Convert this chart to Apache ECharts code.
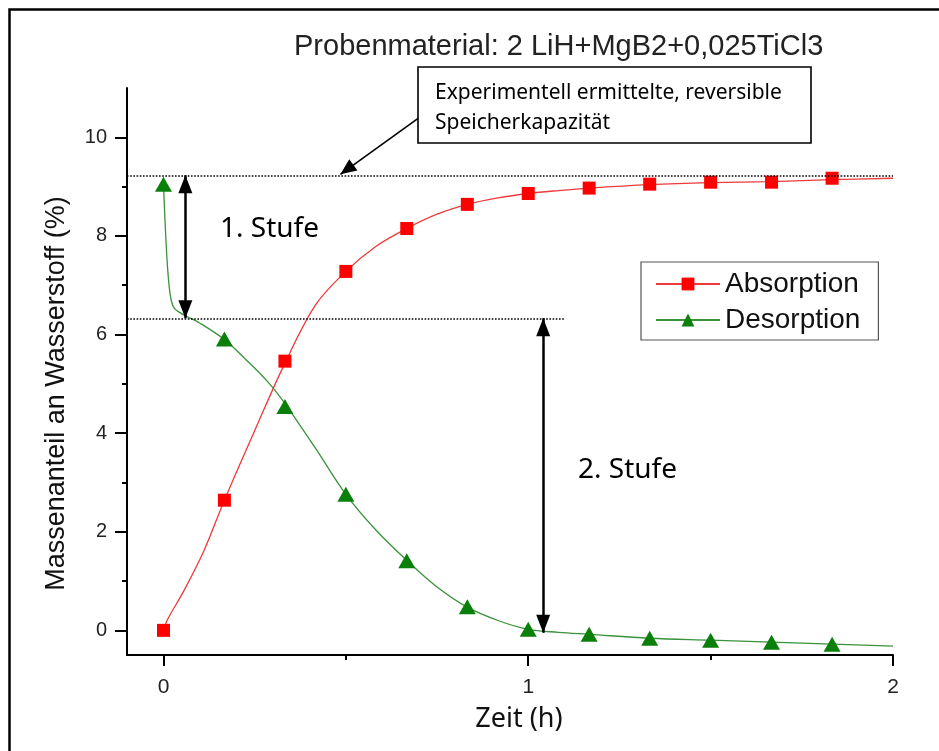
<!DOCTYPE html>
<html><head><meta charset="utf-8">
<script src="https://cdn.jsdelivr.net/npm/echarts@6/dist/echarts.min.js"></script>
<style>html,body{margin:0;padding:0;background:#fff}#c{width:939px;height:751px}</style>
</head><body><div id="c"></div>
<script>
const chartTitle = 'Probenmaterial: 2 LiH+MgB2+0,025TiCl3';
const xName = 'Zeit (h)';
const yName = 'Massenanteil an Wasserstoff (%)';
const seriesNames = ['Absorption', 'Desorption'];
const xTickLabels = [0, 1, 2];
const xMinorTicks = [0.5, 1.5];
const yTickLabels = [0, 2, 4, 6, 8, 10];
const yMinorTicks = [1, 3, 5, 7, 9];

// marker times (every 10 min)
const markerTimes = [0, 0.167, 0.333, 0.5, 0.667, 0.833, 1.0, 1.167, 1.333, 1.5, 1.667, 1.833];
const absMarkerValues = [0, 2.64, 5.46, 7.28, 8.15, 8.64, 8.86, 8.97, 9.05, 9.09, 9.09, 9.17];
const desMarkerValues = [9.05, 5.91, 4.54, 2.76, 1.41, 0.48, 0.02, -0.08, -0.16, -0.20, -0.24, -0.28];

// measured curves
const absLineTimes  = [0, 0.011, 0.055, 0.11, 0.167, 0.25, 0.333, 0.417, 0.5, 0.583, 0.667, 0.75, 0.833, 0.917, 1.0, 1.083, 1.167, 1.333, 1.5, 1.667, 1.833, 2.0];
const absLineValues = [0, 0.22, 0.79, 1.6, 2.64, 4.05, 5.42, 6.6, 7.28, 7.79, 8.15, 8.44, 8.64, 8.77, 8.86, 8.92, 8.97, 9.04, 9.08, 9.10, 9.14, 9.17];
const desLineTimes  = [0, 0.0055, 0.011, 0.0164, 0.022, 0.03, 0.044, 0.063, 0.1, 0.167, 0.225, 0.285, 0.333, 0.417, 0.5, 0.583, 0.667, 0.75, 0.833, 0.917, 1.0, 1.083, 1.167, 1.333, 1.5, 1.667, 1.833, 2.0];
const desLineValues = [9.05, 8.1, 7.38, 6.92, 6.67, 6.53, 6.45, 6.37, 6.23, 5.90, 5.5, 5.05, 4.6, 3.69, 2.76, 2.03, 1.42, 0.88, 0.47, 0.2, 0.02, -0.04, -0.08, -0.16, -0.2, -0.24, -0.28, -0.32];

// annotation levels
const capacityLevel = 9.23;
const stage2Level = 6.33;
const stage2End = -0.05;
const arrow1Time = 0.06;
const arrow2Time = 1.041;
const dottedLowerEnd = 1.1;
const pointerFrom = [0.699, 10.39];
const pointerTo = [0.485, 9.25];
const boxLines = ['Experimentell ermittelte, reversible', 'Speicherkapazität'];
const stageLabels = ['1. Stufe', '2. Stufe'];

const zip = (a, b) => a.map((v, i) => [v, b[i]]);
const RED = '#ff0000', GREEN = '#0a800a';

const chart = echarts.init(document.getElementById('c'));

chart.setOption({
  animation: false,
  backgroundColor: '#fff',
  title: {
    text: chartTitle, left: 289, top: 27,
    textStyle: {fontFamily: 'Liberation Sans', fontSize: 29, fontWeight: 'normal', color: '#222'}
  },
  legend: {
    data: seriesNames, orient: 'vertical', left: 641, top: 262,
    padding: [8, 18, 6, 14], itemGap: 8, itemWidth: 64, itemHeight: 16,
    borderColor: '#555', borderWidth: 1.2, backgroundColor: '#fff',
    textStyle: {fontFamily: 'Liberation Sans', fontSize: 28, color: '#111'}
  },
  grid: {left: 127, right: 46, top: 88, bottom: 96, containLabel: false},
  xAxis: [{
    type: 'value', min: -0.1, max: 2, position: 'bottom',
    name: xName, nameLocation: 'middle', nameGap: 51,
    nameTextStyle: {fontFamily: 'Noto Sans', fontSize: 27, color: '#111', padding: [0, 0, 0, 18]},
    axisLine: {show: true, onZero: false, lineStyle: {color: '#000', width: 2}},
    axisTick: {show: true, length: 11, customValues: xTickLabels, lineStyle: {color: '#000', width: 2}},
    axisLabel: {customValues: xTickLabels, fontFamily: 'Liberation Sans', fontSize: 21, color: '#222', margin: 22},
    splitLine: {show: false}
  }, {
    type: 'value', min: -0.1, max: 2, position: 'bottom', offset: 0,
    axisLine: {show: false, onZero: false},
    axisTick: {show: true, length: 5, customValues: xMinorTicks, lineStyle: {color: '#000', width: 2}},
    axisLabel: {show: false}, splitLine: {show: false}
  }],
  yAxis: [{
    type: 'value', min: -0.5, max: 11, position: 'left',
    name: yName, nameLocation: 'middle', nameGap: 57, nameRotate: 90,
    nameTextStyle: {fontFamily: 'Liberation Sans', fontSize: 27, color: '#111', padding: [0, 44, 0, 0]},
    axisLine: {show: true, onZero: false, lineStyle: {color: '#000', width: 2}},
    axisTick: {show: true, length: 12, customValues: yTickLabels, lineStyle: {color: '#000', width: 2}},
    axisLabel: {customValues: yTickLabels, fontFamily: 'Liberation Sans', fontSize: 20, color: '#222', margin: 20},
    splitLine: {show: false}
  }, {
    type: 'value', min: -0.5, max: 11, position: 'left', offset: 0,
    axisLine: {show: false, onZero: false},
    axisTick: {show: true, length: 5, customValues: yMinorTicks, lineStyle: {color: '#000', width: 2}},
    axisLabel: {show: false}, splitLine: {show: false}
  }],
  series: [
    {
      name: seriesNames[0], type: 'line', data: zip(absLineTimes, absLineValues),
      symbol: 'rect', showSymbol: false, smooth: 0.35,
      lineStyle: {color: '#ee3a3a', width: 1.3}, itemStyle: {color: RED}, z: 2
    },
    {
      name: seriesNames[0], type: 'scatter', data: zip(markerTimes, absMarkerValues),
      symbol: 'rect', symbolSize: 13, itemStyle: {color: RED, opacity: 1}, z: 4
    },
    {
      name: seriesNames[1], type: 'line', data: zip(desLineTimes, desLineValues),
      symbol: 'triangle', showSymbol: false, smooth: 0.35,
      lineStyle: {color: '#3a923a', width: 1.3}, itemStyle: {color: GREEN}, z: 2
    },
    {
      name: seriesNames[1], type: 'scatter', data: zip(markerTimes, desMarkerValues),
      symbol: 'triangle', symbolSize: [17, 15], itemStyle: {color: GREEN, opacity: 1}, z: 4
    },
    {
      name: 'guides', type: 'line', data: [], silent: true, z: 1,
      markLine: {
        silent: true, animation: false, symbol: 'none', label: {show: false},
        lineStyle: {color: '#000', type: 'dotted', width: 1.6},
        data: [
          [{coord: [-0.1, capacityLevel]}, {coord: [2, capacityLevel]}],
          [{coord: [-0.1, stage2Level]}, {coord: [dottedLowerEnd, stage2Level]}]
        ]
      }
    },
    {
      name: 'arrows', type: 'line', data: [], silent: true, z: 5,
      markLine: {
        silent: true, animation: false, label: {show: false},
        symbol: ['triangle', 'triangle'], symbolSize: [14, 18], symbolOffset: [[0, 9], [0, 9]],
        lineStyle: {color: '#000', type: 'solid', width: 2.5},
        itemStyle: {color: '#000'},
        data: [
          [{coord: [arrow1Time, capacityLevel]}, {coord: [arrow1Time, stage2Level]}],
          [{coord: [arrow2Time, stage2Level]}, {coord: [arrow2Time, stage2End]}],
          [{coord: pointerFrom, symbol: 'none', lineStyle: {width: 1.6}}, {coord: pointerTo, symbol: 'triangle', symbolSize: [14, 16], symbolOffset: [0, 8]}]
        ]
      }
    }
  ],
  graphic: [
    {type: 'rect', silent: true, z: 100, shape: {x: 9.5, y: 9.5, width: 1000, height: 1000}, style: {fill: 'none', stroke: '#000', lineWidth: 2.5}},
    {type: 'rect', silent: true, z: 100, shape: {x: 418, y: 67, width: 393, height: 76}, style: {fill: '#fff', stroke: '#000', lineWidth: 1.6}},
    {type: 'text', silent: true, z: 101, x: 435, y: 78, style: {text: boxLines.join('\n'), font: '21px "Noto Sans"', fill: '#000', lineHeight: 30}},
    {type: 'text', silent: true, z: 101, x: 220, y: 215, style: {text: stageLabels[0], font: '28px "Noto Sans"', fill: '#000'}},
    {type: 'text', silent: true, z: 101, x: 578, y: 456, style: {text: stageLabels[1], font: '28px "Noto Sans"', fill: '#000'}}
  ]
});
</script></body></html>
